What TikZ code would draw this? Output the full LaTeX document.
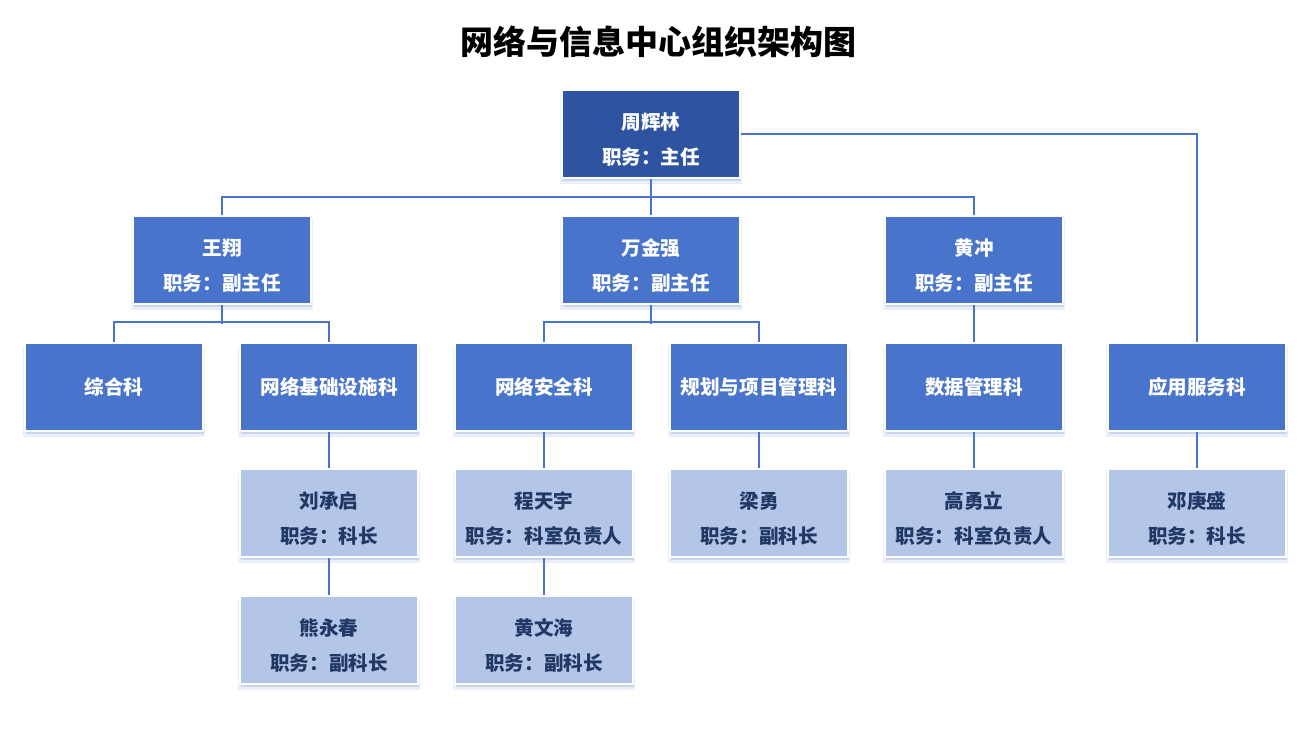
\documentclass[tikz,border=0pt]{standalone}
\usepackage{fontspec}
\setmainfont{Noto Sans CJK SC}
\usetikzlibrary{shadows}
\definecolor{topblue}{RGB}{46,84,161}
\definecolor{midblue}{RGB}{72,116,203}
\definecolor{lightblue}{RGB}{180,198,231}
\definecolor{darktext}{RGB}{32,56,100}
\definecolor{lineblue}{RGB}{72,116,203}
\newcommand\who[2]{\rule{0pt}{13.8pt}#1\\职务：#2}
\begin{document}
\begin{tikzpicture}[x=0.5pt, y=-0.5pt,
    box/.style={draw=white, line width=1pt, minimum width=89pt, minimum height=44pt,
      align=center, font=\fontsize{9.8}{17.5}\selectfont\bfseries,
      drop shadow={shadow xshift=0pt, shadow yshift=-2.5pt, shadow scale=1.02, fill=lineblue, opacity=0.12},
      drop shadow={shadow xshift=0.3pt, shadow yshift=-1.5pt, fill=lineblue, opacity=0.2}},
    head/.style={box, fill=topblue, text=white},
    unit/.style={box, fill=midblue, text=white},
    staff/.style={box, fill=lightblue, text=darktext},
    link/.style={draw=lineblue, line width=1pt}]
    \useasboundingbox (0,0) rectangle (1314,736);

    \node[font=\fontsize{16.5}{20}\selectfont\bfseries] (title) at (658,42) {网络与信息中心组织架构图};

    \node[head] (zhou) at (651,134) {\who{周辉林}{主任}};

    \node[unit] (wang) at (222,260) {\who{王翔}{副主任}};
    \node[unit] (wan) at (651,260) {\who{万金强}{副主任}};
    \node[unit] (huang) at (974,260) {\who{黄冲}{副主任}};

    \node[unit] (zonghe) at (114,387) {综合科};
    \node[unit] (jichu) at (329,387) {网络基础设施科};
    \node[unit] (anquan) at (544,387) {网络安全科};
    \node[unit] (guihua) at (759,387) {规划与项目管理科};
    \node[unit] (shuju) at (974,387) {数据管理科};
    \node[unit] (yingyong) at (1197,387) {应用服务科};

    \node[staff] (liu) at (329,513) {\who{刘承启}{科长}};
    \node[staff] (cheng) at (544,513) {\who{程天宇}{科室负责人}};
    \node[staff] (liang) at (759,513) {\who{梁勇}{副科长}};
    \node[staff] (gao) at (974,513) {\who{高勇立}{科室负责人}};
    \node[staff] (deng) at (1197,513) {\who{邓庚盛}{科长}};

    \node[staff] (xiong) at (329,640) {\who{熊永春}{副科长}};
    \node[staff] (huangwh) at (544,640) {\who{黄文海}{副科长}};

    \draw[link] (zhou.south) -- (wan.north);
    \draw[link] (wang.north) -- ++(0,-18) -| (huang.north);
    \draw[link] (zhou.east) -| (yingyong.north);

    \draw[link] (wang.south) -- ++(0,19);
    \draw[link] (zonghe.north) -- ++(0,-20) -| (jichu.north);
    \draw[link] (wan.south) -- ++(0,19);
    \draw[link] (anquan.north) -- ++(0,-20) -| (guihua.north);
    \draw[link] (huang.south) -- (shuju.north);

    \draw[link] (jichu.south) -- (liu.north);
    \draw[link] (liu.south) -- (xiong.north);
    \draw[link] (anquan.south) -- (cheng.north);
    \draw[link] (cheng.south) -- (huangwh.north);
    \draw[link] (guihua.south) -- (liang.north);
    \draw[link] (shuju.south) -- (gao.north);
    \draw[link] (yingyong.south) -- (deng.north);
  \end{tikzpicture}
\end{document}
